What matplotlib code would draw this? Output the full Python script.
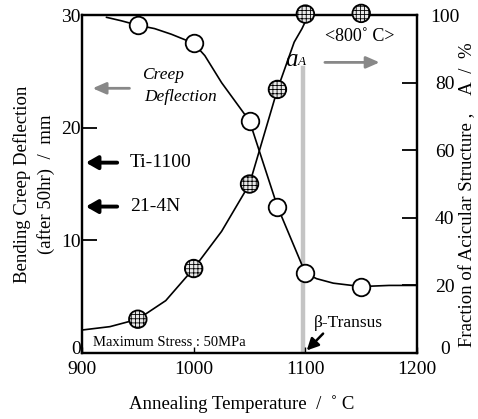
import matplotlib
matplotlib.use("Agg")
import matplotlib.pyplot as plt
from matplotlib.transforms import ScaledTranslation

plt.rcParams['font.family'] = ['Liberation Serif', 'DejaVu Serif']
plt.rcParams['hatch.linewidth'] = 0.6

# measured points
temp_pts = [950, 1000, 1050, 1075, 1100, 1150]
deflection_pts = [29.1, 27.5, 20.6, 13.0, 7.1, 5.9]
acicular_pts = [10, 25, 50, 78, 100.3, 100.5]

# drawn curves
defl_curve_t = [922, 935, 950, 965, 980, 1000, 1010, 1025, 1050, 1075, 1100, 1110, 1125, 1150, 1175, 1200]
defl_curve_v = [29.8, 29.5, 29.1, 28.8, 28.3, 27.5, 26.4, 24.0, 20.6, 13.0, 7.1, 6.6, 6.2, 5.9, 6.0, 6.0]
acic_curve_t = [900, 925, 950, 975, 1000, 1025, 1050, 1075, 1090, 1097, 1102, 1110, 1130, 1150, 1175, 1200]
acic_curve_v = [6.8, 7.8, 10, 15.5, 25, 36, 50, 78, 92, 96, 99.5, 100.3, 100.5, 100.5, 100.2, 100]

ref_alloys = ["Ti-1100", "21-4N"]
ref_values = [16.9, 13.0]

fig = plt.figure(figsize=(4.78, 4.19), dpi=100)
ax = fig.add_axes([0.1715, 0.1575, 0.701, 0.8065])
ax2 = ax.twinx()

ax.set_xlim(900, 1200)
ax.set_ylim(0, 30)
ax2.set_ylim(0, 100)

for a in (ax, ax2):
    for s in a.spines.values():
        s.set_linewidth(1.6)

ax.set_xticks([900, 1000, 1100, 1200])
ax.set_yticks([0, 10, 20, 30])
ax2.set_yticks([0, 20, 40, 60, 80, 100])
ax.tick_params(axis='y', direction='in', length=11, width=1.3, labelsize=14, pad=1)
ax.tick_params(axis='x', direction='in', length=4, width=1.0, labelsize=14, pad=6)
ax2.tick_params(axis='y', direction='in', length=11, width=1.3, labelsize=14, pad=20)
for lbl in ax2.get_yticklabels():
    lbl.set_horizontalalignment('center')
lift = ScaledTranslation(0, 6 / 100, fig.dpi_scale_trans)
for lbl in (ax.get_yticklabels()[0], ax2.get_yticklabels()[0]):
    lbl.set_transform(lbl.get_transform() + lift)

# beta-transus gray line
ax.plot([1098, 1098], [0, 25.3], color='#c4c4c4', lw=3.2, zorder=1)

# curves
ax.plot(defl_curve_t, defl_curve_v, color='k', lw=1.2, zorder=2)
ax2.plot(acic_curve_t, acic_curve_v, color='k', lw=1.2, zorder=2)

ax.scatter(temp_pts, deflection_pts, s=160, facecolor='white', edgecolor='k', linewidths=1.3, zorder=4, clip_on=False)
ax2.scatter(temp_pts, acicular_pts, s=160, facecolor='#e8e8e8', edgecolor='k', hatch='++++', linewidths=1.3, zorder=4, clip_on=False)

# labels
ax.set_xlabel('Annealing Temperature  /  ˚ C', fontsize=13.5)
ax.xaxis.set_label_coords(0.478, -0.125)
ax.set_ylabel('Bending Creep Deflection\n(after 50hr)  /  mm', fontsize=13.5, labelpad=4, linespacing=1.45)
fig.text(468 / 478, 1 - 195 / 419, 'Fraction of Acicular Structure ,    A  /  %', fontsize=13.5,
         rotation=90, ha='center', va='center')

# Creep Deflection annotation
ax.text(972.5, 24.7, 'Creep', fontsize=12.5, style='italic', ha='center', va='center')
ax.text(988.6, 22.7, 'Deflection', fontsize=12.5, style='italic', ha='center', va='center')
ax.annotate('', xy=(907, 23.5), xytext=(945, 23.5),
            arrowprops=dict(arrowstyle='-|>,head_length=0.8,head_width=0.35', color='#888888', lw=2))

# reference alloys
for name, v in zip(ref_alloys, ref_values):
    ax.annotate('', xy=(901, v), xytext=(934, v),
                arrowprops=dict(arrowstyle='-|>,head_length=0.7,head_width=0.4', color='k', lw=2.8))
    ax.text(943, v, name, fontsize=14, ha='left', va='center')

# aA label and 800C
ax.text(1093, 26.0, 'a', fontsize=18, style='italic', ha='right', va='center',
        bbox=dict(facecolor='white', edgecolor='none', pad=0.3), zorder=3)
ax.text(1093.5, 25.8, 'A', fontsize=9.5, style='italic', ha='left', va='center', zorder=3)
ax.text(1148.5, 28.1, '<800˚ C>', fontsize=13, ha='center', va='center')
ax2.annotate('', xy=(1169, 86), xytext=(1115, 86),
             arrowprops=dict(arrowstyle='-|>,head_length=0.8,head_width=0.35', color='#888888', lw=2))

ax.text(910, 0.4, 'Maximum Stress : 50MPa', fontsize=10.5, ha='left', va='bottom')

ax.annotate('', xy=(1099.5, 0.05), xytext=(1117.6, 1.9),
            arrowprops=dict(arrowstyle='-|>,head_length=0.7,head_width=0.35', color='k', lw=1.8))
ax.text(1107.5, 2.7, 'β-Transus', fontsize=12.5, ha='left', va='center')

fig.savefig('out.png', dpi=100)
